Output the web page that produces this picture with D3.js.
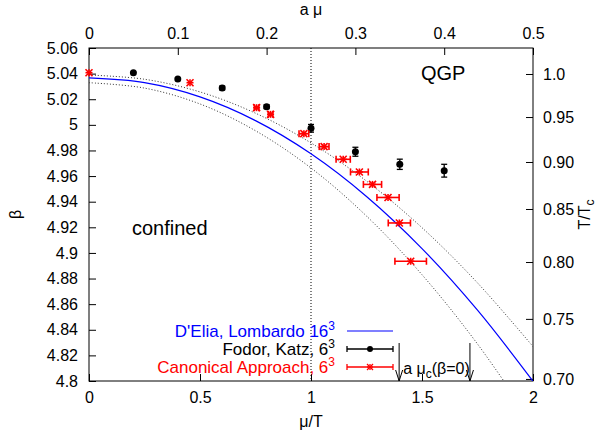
<!DOCTYPE html>
<html>
<head>
<meta charset="utf-8">
<script src="https://cdn.jsdelivr.net/npm/d3@7"></script>
<style>
  body { margin: 0; background: #fff; }
  svg { font-family: "Liberation Sans", Arial, sans-serif; }
</style>
</head>
<body>
<div id="chart"></div>
<script>
// fit curves (mu/T -> beta)
const curveMu = [0, 0.25, 0.5, 0.75, 1.0, 1.25, 1.5, 1.75, 2.0];
const fitMid = [5.0366, 5.0329, 5.0218, 5.0033, 4.9774, 4.9441, 4.9034, 4.8553, 4.7998];
const fitUp = [5.0389, 5.0356, 5.0257, 5.0091, 4.9859, 4.9561, 4.9197, 4.8766, 4.8269];
const fitLow = [5.0329, 5.0287, 5.0163, 4.9954, 4.9663, 4.9288, 4.8830, 4.8289, 4.7665];

// Fodor, Katz 6^3
const fkMu = [0.2, 0.4, 0.6, 0.8, 1.0, 1.2, 1.4, 1.6];
const fkBeta = [5.0407, 5.0358, 5.0288, 5.0142, 4.9973, 4.9790, 4.9692, 4.9642];
const fkErr = [0.0008, 0.0008, 0.0015, 0.0015, 0.003, 0.0035, 0.004, 0.005];

// Canonical approach 6^3
const caMu = [0, 0.455, 0.755, 0.818, 0.968, 1.059, 1.145, 1.218, 1.277, 1.347, 1.398, 1.449];
const caBeta = [5.0407, 5.0329, 5.0134, 5.0082, 4.9931, 4.9830, 4.9731, 4.9632, 4.9535, 4.9433, 4.9234, 4.8935];
const caErr = [0, 0, 0.01, 0.01, 0.022, 0.022, 0.032, 0.04, 0.041, 0.05, 0.05, 0.071];

// axes
const betaTicks = [4.8, 4.82, 4.84, 4.86, 4.88, 4.9, 4.92, 4.94, 4.96, 4.98, 5, 5.02, 5.04, 5.06];
const muTicks = [0, 0.5, 1, 1.5, 2];
const amuTicks = [0, 0.1, 0.2, 0.3, 0.4, 0.5];
const ttcLabels = ["1.0", "0.95", "0.90", "0.85", "0.80", "0.75", "0.70"];
const ttcBeta = [5.0397, 5.0061, 4.9710, 4.9343, 4.8929, 4.8485, 4.8016];
const arrowMu = [1.397, 1.716];
const legendNames = ["D'Elia, Lombardo 16", "Fodor, Katz, 6", "Canonical Approach, 6"];

const width = 612, height = 435;
const margin = { top: 48, right: 79, bottom: 54, left: 89 };
const x0 = margin.left, x1 = width - margin.right;
const y0 = height - margin.bottom, y1 = margin.top;

const svg = d3.select("#chart").append("svg")
  .attr("width", width)
  .attr("height", height)
  .style("font-size", "16px");

const x = d3.scaleLinear().domain([0, 2]).range([x0, x1]);
const xTop = d3.scaleLinear().domain([0, 0.5]).range([x0, x1]);
const y = d3.scaleLinear().domain([4.8, 5.06]).range([y0, y1]);

svg.append("clipPath").attr("id", "clip")
  .append("rect")
  .attr("x", x0).attr("y", y1)
  .attr("width", x1 - x0).attr("height", y0 - y1);

function styleAxis(g) {
  g.select(".domain").remove();
  g.selectAll(".tick line").attr("stroke", "#000");
  g.selectAll(".tick text").attr("fill", "#000").style("font-size", "16px")
    .style("font-family", "'Liberation Sans', Arial, sans-serif");
}

// left axis
svg.append("g")
  .attr("transform", `translate(${x0},0)`)
  .call(d3.axisLeft(y).tickValues(betaTicks).tickFormat(d3.format("~f"))
    .tickSizeInner(-7).tickSizeOuter(0).tickPadding(11))
  .call(styleAxis);

// bottom axis
svg.append("g")
  .attr("transform", `translate(0,${y0})`)
  .call(d3.axisBottom(x).tickValues(muTicks).tickFormat(d3.format("~f"))
    .tickSizeInner(-7).tickSizeOuter(0).tickPadding(11))
  .call(styleAxis);

// top axis
svg.append("g")
  .attr("transform", `translate(0,${y1})`)
  .call(d3.axisTop(xTop).tickValues(amuTicks).tickFormat(d3.format("~f"))
    .tickSizeInner(-7).tickSizeOuter(0).tickPadding(9))
  .call(styleAxis);

// right axis (T/Tc)
svg.append("g")
  .attr("transform", `translate(${x1},0)`)
  .call(d3.axisRight(y).tickValues(ttcBeta).tickFormat((d, i) => ttcLabels[i])
    .tickSizeInner(-7).tickSizeOuter(0).tickPadding(10))
  .call(styleAxis);

// frame
svg.append("rect")
  .attr("x", x0).attr("y", y1)
  .attr("width", x1 - x0).attr("height", y0 - y1)
  .attr("fill", "none").attr("stroke", "#000").attr("stroke-width", 1);

// vertical dotted line at mu/T = 1
svg.append("line")
  .attr("x1", x(1)).attr("x2", x(1))
  .attr("y1", y1).attr("y2", y0)
  .attr("stroke", "#000").attr("stroke-width", 1)
  .attr("stroke-dasharray", "1,2");

// fit curves
const plot = svg.append("g").attr("clip-path", "url(#clip)");
const line = d3.line()
  .x(d => x(d[0]))
  .y(d => y(d[1]))
  .curve(d3.curveCatmullRom);

[fitUp, fitLow].forEach(vals => {
  plot.append("path")
    .datum(curveMu.map((m, i) => [m, vals[i]]))
    .attr("fill", "none")
    .attr("stroke", "#333")
    .attr("stroke-width", 1)
    .attr("stroke-dasharray", "1,2")
    .attr("d", line);
});

plot.append("path")
  .datum(curveMu.map((m, i) => [m, fitMid[i]]))
  .attr("fill", "none")
  .attr("stroke", "#0000ff")
  .attr("stroke-width", 1.2)
  .attr("d", line);

// Fodor-Katz points with vertical error bars
const fk = fkMu.map((m, i) => ({ mu: m, beta: fkBeta[i], err: fkErr[i] }));
const fkG = svg.append("g").attr("stroke", "#000").attr("stroke-width", 1.3);
fk.forEach(d => {
  const cx = x(d.mu);
  if (d.err > 0.001) {
    fkG.append("line").attr("x1", cx).attr("x2", cx)
      .attr("y1", y(d.beta - d.err)).attr("y2", y(d.beta + d.err));
    [d.beta - d.err, d.beta + d.err].forEach(b => {
      fkG.append("line").attr("x1", cx - 3).attr("x2", cx + 3)
        .attr("y1", y(b)).attr("y2", y(b));
    });
  }
});
svg.selectAll("circle.fk")
  .data(fk)
  .enter().append("circle")
  .attr("class", "fk")
  .attr("cx", d => x(d.mu))
  .attr("cy", d => y(d.beta))
  .attr("r", 3.5)
  .attr("fill", "#000");

// canonical approach points with horizontal error bars
function star(g, cx, cy, s) {
  g.append("line").attr("x1", cx - s).attr("x2", cx + s).attr("y1", cy).attr("y2", cy);
  g.append("line").attr("x1", cx).attr("x2", cx).attr("y1", cy - s).attr("y2", cy + s);
  g.append("line").attr("x1", cx - s).attr("x2", cx + s).attr("y1", cy - s).attr("y2", cy + s);
  g.append("line").attr("x1", cx - s).attr("x2", cx + s).attr("y1", cy + s).attr("y2", cy - s);
}
const caG = svg.append("g").attr("stroke", "#ff0000").attr("stroke-width", 1.6);
caMu.forEach((m, i) => {
  const cx = x(m), cy = y(caBeta[i]);
  if (caErr[i] > 0) {
    const xa = x(m - caErr[i]), xb = x(m + caErr[i]);
    caG.append("line").attr("x1", xa).attr("x2", xb).attr("y1", cy).attr("y2", cy);
    [xa, xb].forEach(xx => {
      caG.append("line").attr("x1", xx).attr("x2", xx).attr("y1", cy - 3.5).attr("y2", cy + 3.5);
    });
  }
  star(caG, cx, cy, 3.5);
});

// labels in plot
svg.append("text").attr("x", 421).attr("y", 80).style("font-size", "20px").text("QGP");
svg.append("text").attr("x", 132).attr("y", 235).style("font-size", "20px").text("confined");

// arrows for a mu_c(beta=0)
const arrG = svg.append("g").attr("stroke", "#000").attr("stroke-width", 1).attr("fill", "none");
arrowMu.forEach(m => {
  const ax = x(m);
  arrG.append("line").attr("x1", ax).attr("x2", ax).attr("y1", 343).attr("y2", y0);
  arrG.append("path").attr("d", `M${ax - 3.5},${y0 - 11}L${ax},${y0}L${ax + 3.5},${y0 - 11}`);
});
const amu = svg.append("text").attr("x", x(arrowMu[0]) + 4).attr("y", 374);
amu.append("tspan").text("a \u03bc");
amu.append("tspan").attr("dy", 4).style("font-size", "12px").text("c");
amu.append("tspan").attr("dy", -4).text("(\u03b2=0)");

// legend
const legendColors = ["#0000ff", "#000", "#ff0000"];
const rowY = [331, 349, 367];
legendNames.forEach((name, i) => {
  const t = svg.append("text")
    .attr("x", 335).attr("y", rowY[i] + 6)
    .attr("text-anchor", "end")
    .attr("fill", legendColors[i])
    .style("font-size", "17px");
  t.append("tspan").text(name);
  t.append("tspan").attr("dy", -7).style("font-size", "12px").text("3");
});
const lx0 = 347, lx1 = 393, lxm = 370;
svg.append("line").attr("x1", lx0).attr("x2", lx1).attr("y1", rowY[0]).attr("y2", rowY[0])
  .attr("stroke", "#0000ff").attr("stroke-width", 1.2);
[1, 2].forEach(i => {
  const g = svg.append("g").attr("stroke", i === 1 ? "#000" : "#ff0000").attr("stroke-width", 1.3);
  g.append("line").attr("x1", lx0).attr("x2", lx1).attr("y1", rowY[i]).attr("y2", rowY[i]);
  [lx0, lx1].forEach(xx => g.append("line").attr("x1", xx).attr("x2", xx)
    .attr("y1", rowY[i] - 3).attr("y2", rowY[i] + 3));
  if (i === 1) {
    svg.append("circle").attr("cx", lxm).attr("cy", rowY[i]).attr("r", 3).attr("fill", "#000");
  } else {
    star(g, lxm, rowY[i], 3);
  }
});

// axis titles
svg.append("text").attr("x", (x0 + x1) / 2).attr("y", 427).attr("text-anchor", "middle").text("\u03bc/T");
svg.append("text").attr("x", (x0 + x1) / 2).attr("y", 15).attr("text-anchor", "middle").text("a \u03bc");
svg.append("text")
  .attr("transform", `translate(21,${(y0 + y1) / 2}) rotate(-90)`)
  .attr("text-anchor", "middle")
  .text("\u03b2");
const ttc = svg.append("text")
  .attr("transform", `translate(590,${(y0 + y1) / 2}) rotate(-90)`)
  .attr("text-anchor", "middle");
ttc.append("tspan").text("T/T");
ttc.append("tspan").attr("dy", 4).style("font-size", "12px").text("c");
</script>
</body>
</html>
